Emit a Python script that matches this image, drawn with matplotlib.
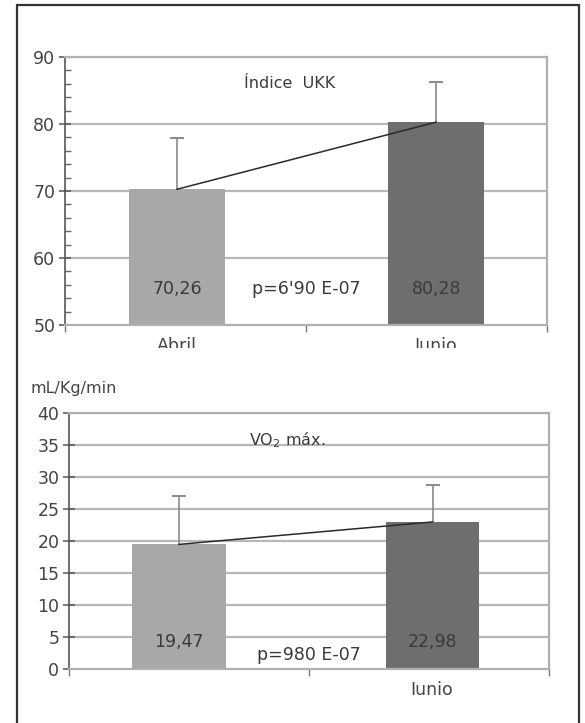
import matplotlib
matplotlib.use("Agg")
import matplotlib.pyplot as plt
import numpy as np
from matplotlib.patches import Rectangle
from matplotlib.transforms import Bbox, TransformedBbox

plt.rcParams['font.family'] = ['DejaVu Sans']

# ---- data ----
categories = ["Abril", "Junio"]
ukk_values = [70.26, 80.28]
ukk_sd = [7.6, 6.0]
ukk_labels = ["70,26", "80,28"]
ukk_p = "p=6'90 E-07"

vo2_values = [19.47, 22.98]
vo2_sd = [7.6, 5.8]
vo2_labels = ["19,47", "22,98"]
vo2_p = "p=980 E-07"

bar_colors = ["#a8a8a8", "#6e6e6e"]
W, H = 585, 723
fig = plt.figure(figsize=(W / 100, H / 100), dpi=100)

def px_axes(l, t, r, b):
    return fig.add_axes([l / W, 1 - b / H, (r - l) / W, (b - t) / H])

# border
fig.add_artist(Rectangle((17 / W, -0.01), (579 - 17) / W, (1 - 5 / H) + 0.01,
                         transform=fig.transFigure, fill=False,
                         edgecolor="#333333", linewidth=1.6))

def draw(ax, values, sd, labels, pval, ylim, ystep, minor, centers, width,
         title, title_xy, lbl_y, p_y, xlabels_show, lbl_clip):
    x = np.array(centers)
    ax.set_xlim(0, 2)
    ax.set_ylim(*ylim)
    ax.set_yticks(np.arange(ylim[0], ylim[1] + ystep / 2, ystep))
    for yv in np.arange(ylim[0] + ystep, ylim[1] + ystep / 2, ystep):
        ax.axhline(yv, color="#b8b8b8", linewidth=1.6, zorder=0)
    ax.bar(x, np.array(values) - ylim[0], width=width, bottom=ylim[0],
           color=bar_colors, zorder=2)
    for xi, v, s in zip(x, values, sd):
        ax.plot([xi, xi], [v, v + s], color="#8a8a8a", lw=1.2, zorder=3)
        ax.plot([xi - 0.025, xi + 0.025], [v + s, v + s], color="#8a8a8a",
                lw=1.4, zorder=3)
    ax.plot(x, values, color="#2a2a2a", lw=1.1, zorder=4)
    for xi, t in zip(x, labels):
        ax.text(xi, lbl_y, t, ha="center", va="center", fontsize=12.5,
                color="#3a3a3a", zorder=5)
    ax.text(1.0, p_y, pval, ha="center", va="center", fontsize=12.5,
            color="#3a3a3a", zorder=5)
    ax.text(title_xy[0], title_xy[1], title, ha="center", va="center",
            fontsize=11.5, color="#3a3a3a", transform=ax.transAxes)
    # spines
    for s in ["top", "right", "bottom"]:
        ax.spines[s].set_color("#b0b0b0")
        ax.spines[s].set_linewidth(1.6)
    ax.spines["left"].set_color("#555555")
    ax.spines["left"].set_linewidth(1.2)
    ax.tick_params(axis="y", direction="inout", length=8, width=1.1,
                   colors="#555555", labelsize=12.5, labelcolor="#444444", pad=3)
    if minor:
        ax.set_yticks(np.arange(ylim[0], ylim[1], minor), minor=True)
        ax.tick_params(axis="y", which="minor", direction="in", length=4,
                       width=1.0, colors="#666666")
    ax.set_xticks([0, 1, 2])
    ax.set_xticklabels([])
    ax.tick_params(axis="x", direction="out", length=5, width=1.0,
                   colors="#777777")
    # clipped category labels
    for xi, name, show in zip(x, categories, xlabels_show):
        if not show:
            continue
        t = ax.text(xi, -0.045, name, ha="center", va="top", fontsize=12.5,
                    color="#444444", transform=ax.get_xaxis_transform(),
                    clip_on=True)
        t.set_clip_box(TransformedBbox(
            Bbox([[0, 1 - lbl_clip / H], [1, 1]]), fig.transFigure))
        t.set_clip_path(None)

ax1 = px_axes(65, 57, 547, 325)
draw(ax1, ukk_values, ukk_sd, ukk_labels, ukk_p, (50, 90), 10, 2,
     [0.465, 1.54], 0.40, "Índice  UKK", (0.465, 0.90), 55.4, 55.4,
     [True, True], 348)

ax2 = px_axes(69, 413, 549, 669)
draw(ax2, vo2_values, vo2_sd, vo2_labels, vo2_p, (0, 40), 5, None,
     [0.458, 1.515], 0.39, "VO$_2$ máx.", (0.455, 0.895), 4.2, 2.2,
     [False, True], 695)

fig.text(30 / W, 1 - 388 / H, "mL/Kg/min", ha="left", va="center",
         fontsize=11.5, color="#444444")

fig.savefig("out.png", dpi=100, facecolor="white")
